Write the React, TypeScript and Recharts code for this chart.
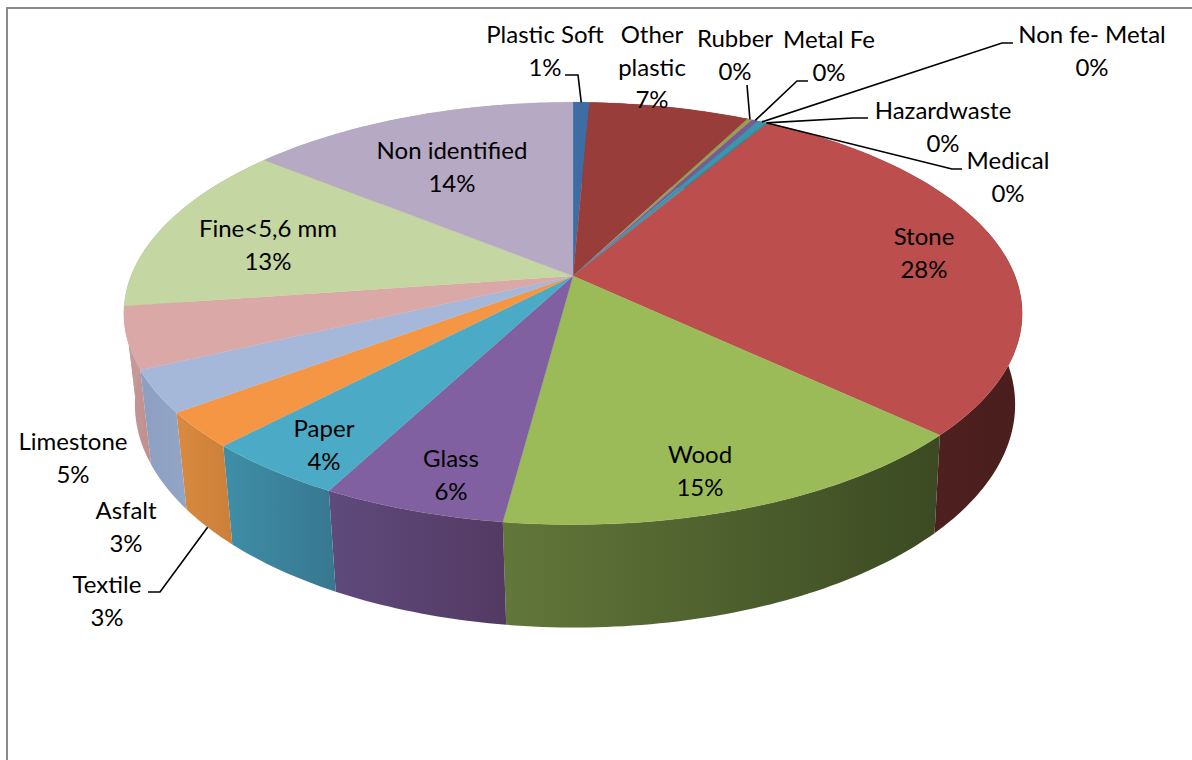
import { PieChart, Pie } from "recharts";

// slice shares in percent, clockwise from 12 o'clock
const categories = [
  "Plastic Soft", "Other plastic", "Rubber", "Metal Fe", "Non fe- Metal", "Hazardwaste", "Medical",
  "Stone", "Wood", "Glass", "Paper", "Textile", "Asfalt", "Limestone", "Fine<5,6 mm", "Non identified",
];
const shares = [0.7, 6.85, 0.23, 0.25, 0.36, 0.04, 0.04, 28.52, 15.1, 5.62, 4.4, 2.7, 3.2, 4.7, 13.15, 14.14];
const percentLabels = ["1%", "7%", "0%", "0%", "0%", "0%", "0%", "28%", "15%", "6%", "4%", "3%", "3%", "5%", "13%", "14%"];
const topColors = [
  "#3e6da6", "#993d3b", "#9a9a5a", "#7b5a9a", "#3a95ad", "#3a95ad", "#3a95ad", "#bc4f4d",
  "#9bbb59", "#8060a0", "#4babc6", "#f49643", "#a6b8d9", "#d9a8a7", "#c4d6a1", "#b6a9c4",
];
const wallLeft = [
  "#2c4d75", "#6b2a29", "#6c6c3f", "#56406c", "#287a8f", "#287a8f", "#287a8f", "#552222",
  "#62773a", "#5f4a7d", "#3f8ea8", "#d98a40", "#8d9fc2", "#c49a99", "#c49a99", "#c49a99",
];
const wallRight = [
  "#2c4d75", "#6b2a29", "#6c6c3f", "#56406c", "#287a8f", "#287a8f", "#287a8f", "#4a1e1e",
  "#3b4a22", "#533a62", "#37788f", "#cb7f38", "#93a5c6", "#c08f8e", "#c49a99", "#c49a99",
];

const chartData = categories.map((name, i) => ({ name, value: shares[i] }));

// perspective of the disc
const TILT = 0.4627;
const PERSPECTIVE = -0.1773;
const BASE_X = 0.98;
const BASE_Y = 1.056;
const BASE_DROP = 89;
const BASE_SHIFT = 2;

function project(cx: number, cy: number, r: number, deg: number) {
  const rad = (deg * Math.PI) / 180;
  const u = Math.cos(rad);
  const v = -Math.sin(rad);
  const d = 1 + PERSPECTIVE * v;
  return { x: cx + (r * u) / d, y: cy + (r * TILT * v) / d };
}

function projectBase(cx: number, cy: number, r: number, deg: number) {
  const p = project(cx, cy, r, deg);
  return { x: cx + BASE_SHIFT + (p.x - cx) * BASE_X, y: cy + BASE_DROP + (p.y - cy) * BASE_Y };
}

function sweep(start: number, end: number) {
  const steps = Math.max(2, Math.ceil(Math.abs(end - start)));
  const out: number[] = [];
  for (let i = 0; i <= steps; i++) out.push(start + ((end - start) * i) / steps);
  return out;
}

const toPath = (pts: { x: number; y: number }[]) =>
  pts.map((p, i) => `${i ? "L" : "M"}${p.x.toFixed(2)} ${p.y.toFixed(2)}`).join(" ") + " Z";

function TopFace(props: any) {
  const { cx, cy, outerRadius, startAngle, endAngle, index } = props;
  const rim = sweep(startAngle, endAngle).map((a) => project(cx, cy, outerRadius, a));
  const fill = topColors[index];
  return <path d={toPath([{ x: cx, y: cy }, ...rim])} fill={fill} stroke={fill} strokeWidth={0.3} />;
}

function WallFace(props: any) {
  const { cx, cy, outerRadius, startAngle, endAngle, index } = props;
  const angles = sweep(startAngle, endAngle);
  const top = angles.map((a) => project(cx, cy, outerRadius, a));
  const base = angles.map((a) => projectBase(cx, cy, outerRadius, a)).reverse();
  const id = `wall-${index}`;
  return (
    <g>
      <defs>
        <linearGradient id={id} x1="0" y1="0" x2="1" y2="0">
          <stop offset="0" stopColor={wallLeft[index]} />
          <stop offset="1" stopColor={wallRight[index]} />
        </linearGradient>
      </defs>
      <path d={toPath([...top, ...base])} fill={`url(#${id})`} />
    </g>
  );
}

// where each label sits, and the bends of its leader line
const labelSpots = [
  { x: 545, y: 35, leader: [[565, 75], [578, 75]] },
  { x: 652, y: 35, wrap: true },
  { x: 735, y: 39, leader: [[747, 85]] },
  { x: 829, y: 40, leader: [[808, 81], [797, 81]] },
  { x: 1092, y: 35, leader: [[1013, 43], [1002, 43]] },
  { x: 943, y: 111, leader: [[868, 118], [853, 118]] },
  { x: 1008, y: 161, leader: [[962, 169], [952, 169]] },
  { x: 924, y: 237 },
  { x: 700, y: 455 },
  { x: 451, y: 459 },
  { x: 324, y: 429 },
  { x: 107, y: 585, leader: [[148, 592], [160, 592]], onBase: true },
  { x: 126, y: 511 },
  { x: 73, y: 442 },
  { x: 268, y: 229 },
  { x: 452, y: 151 },
];

function SliceLabel(props: any) {
  const { cx, cy, outerRadius, midAngle, index } = props;
  const spot: any = labelSpots[index];
  const lines = [...(spot.wrap ? categories[index].split(" ") : [categories[index]]), percentLabels[index]];
  let line = null;
  if (spot.leader) {
    const end = spot.onBase ? projectBase(cx, cy, outerRadius, midAngle) : project(cx, cy, outerRadius, midAngle);
    const pts = [...spot.leader.map((p: number[]) => p.join(",")), `${end.x},${end.y}`].join(" ");
    line = <polyline points={pts} fill="none" stroke="#000" strokeWidth={1.6} />;
  }
  return (
    <g>
      {line}
      {lines.map((t, i) => (
        <text key={i} x={spot.x} y={spot.y + i * 32.4} dy=".35em" textAnchor="middle" fill="#000" fontFamily="Lato" fontSize={24}>
          {t}
        </text>
      ))}
    </g>
  );
}

export default function App() {
  return (
    <div style={{ position: "absolute", left: 0, top: 0, width: 1192, height: 760, overflow: "hidden", background: "#fff" }}>
      <div style={{ position: "absolute", left: 6, top: 7, width: 1186, height: 753, borderLeft: "2px solid #8a8a8a", borderTop: "2px solid #8a8a8a" }} />
      <div style={{ position: "absolute", left: 0, top: 0 }}>
        <PieChart width={1192} height={760} margin={{ top: 0, right: 0, bottom: 0, left: 0 }}>
          <Pie data={chartData} dataKey="value" nameKey="name" cx={573} cy={276} outerRadius={442} startAngle={90} endAngle={-270}
            stroke="none" shape={WallFace} isAnimationActive={false} />
          <Pie data={chartData} dataKey="value" nameKey="name" cx={573} cy={276} outerRadius={442} startAngle={90} endAngle={-270}
            stroke="none" shape={TopFace} label={SliceLabel} labelLine={false} isAnimationActive={false} />
        </PieChart>
      </div>
    </div>
  );
}
